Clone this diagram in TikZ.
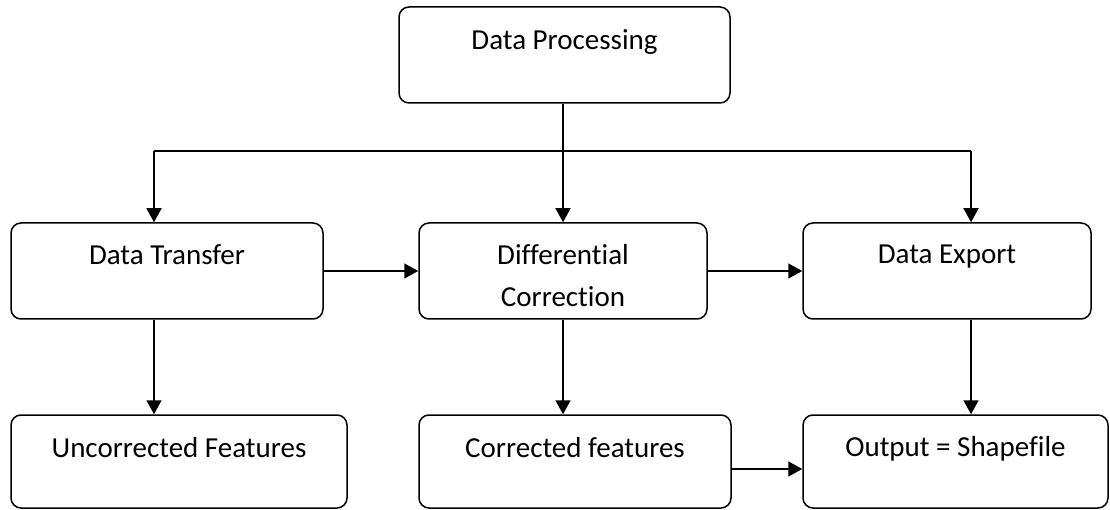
\documentclass[tikz,border=0pt]{standalone}
\usepackage{fontspec}
\setmainfont{Carlito}[Ligatures=NoCommon]
\usetikzlibrary{arrows.meta}
\begin{document}
\begin{tikzpicture}[x=1pt,y=-1pt,
  box/.style={draw=black,line width=1.5pt,rounded corners=10pt,inner sep=0pt},
  lbl/.style={inner sep=0pt,align=center,font=\fontsize{29}{42}\selectfont},
  arr/.style={line width=1.5pt,-{Triangle[length=14pt,width=15pt]}},
  ln/.style={line width=1.5pt}]
\useasboundingbox (0,0) rectangle (1110,510);
% boxes
\node[box,minimum width=331pt,minimum height=96pt] (top) at (564.5,55) {};
\node[box,minimum width=312pt,minimum height=96pt] (mid1) at (167,271) {};
\node[box,minimum width=288pt,minimum height=96pt] (mid2) at (563,271) {};
\node[box,minimum width=288pt,minimum height=96pt] (mid3) at (947,271) {};
\node[box,minimum width=336pt,minimum height=93pt] (bot1) at (179,461.5) {};
\node[box,minimum width=312pt,minimum height=93pt] (bot2) at (575,461.5) {};
\node[box,minimum width=305pt,minimum height=93pt] (bot3) at (955.5,461.5) {};
% labels
\node[lbl,anchor=base] (ttop) at (564.5,50) {Data Processing};
\node[lbl,anchor=base] (tmid1) at (167,265) {Data Transfer};
\node[lbl] (tmid2) at (563,276) {Differential\\Correction};
\node[lbl,anchor=base] (tmid3) at (947,264) {Data Export};
\node[lbl,anchor=base] (tbot1) at (179,457) {Uncorrected Features};
\node[lbl,anchor=base] (tbot2) at (575,457) {Corrected features};
\node[lbl,anchor=base] (tbot3) at (955.5,456) {Output = Shapefile};
% columns
\coordinate (c1) at (154,151);
\coordinate (c2) at (563,151);
\coordinate (c3) at (971,151);
% connectors
\draw[ln] (top.south -| c2) -- (c2);
\draw[ln] (c1) -- (c3);
\draw[arr] (c1) -- (mid1.north -| c1);
\draw[arr] (c2) -- (mid2.north -| c2);
\draw[arr] (c3) -- (mid3.north -| c3);
\draw[arr] (mid1.east) -- (mid2.west);
\draw[arr] (mid2.east) -- (mid3.west);
\draw[arr] (mid1.south -| c1) -- (bot1.north -| c1);
\draw[arr] (mid2.south -| c2) -- (bot2.north -| c2);
\draw[arr] (mid3.south -| c3) -- (bot3.north -| c3);
\coordinate (b2e) at (731,469);
\draw[arr] (bot2.east |- b2e) -- (bot3.west |- b2e);
\end{tikzpicture}
\end{document}
